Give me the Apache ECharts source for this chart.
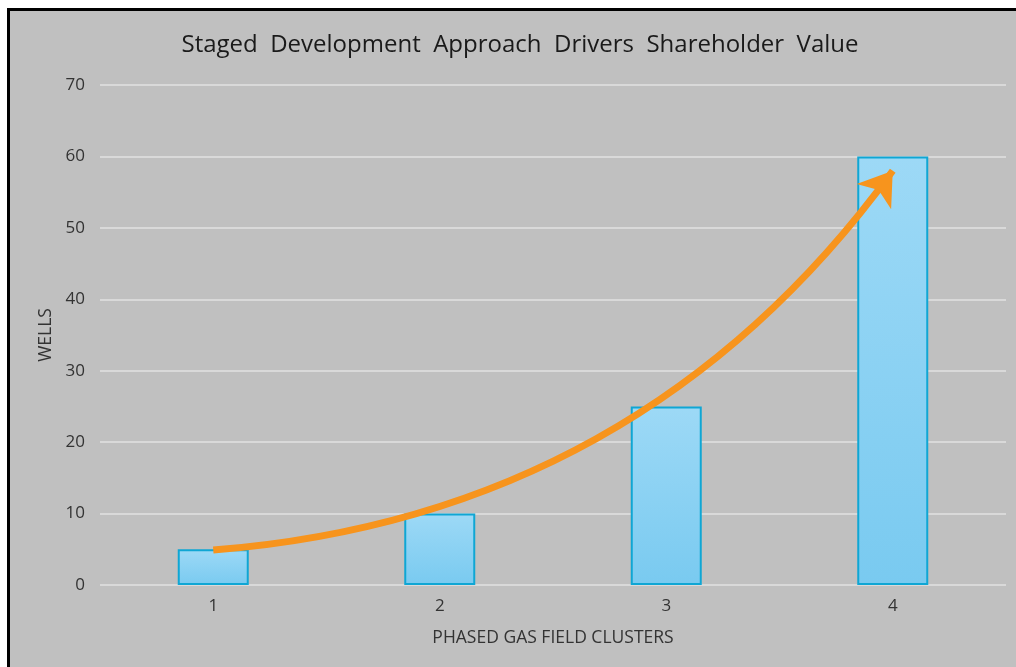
<!DOCTYPE html>
<html>
<head>
<meta charset="utf-8">
<script src="https://cdn.jsdelivr.net/npm/echarts@6/dist/echarts.min.js"></script>
<style>
html, body { margin: 0; padding: 0; background: #fff; overflow: hidden; }
#chart {
    position: absolute;
    left: 7px;
    top: 8px;
    width: 1020px;
    height: 670px;
    border: 3px solid #000;
    background: #c0c0c0;
}
</style>
</head>
<body>
<div id="chart"></div>
<script>
// data
const clusters = ['1', '2', '3', '4']
const wells = [5, 10, 25, 60]
const yTicks = { min: 0, max: 70, interval: 10 }
// trend arrow: [category index, wells]
const trendStart = [0, 4.9]
const trendEnd = [3, 58]

const chart = echarts.init(document.getElementById('chart'))

const labelStyle = {
    color: '#333333',
    fontFamily: 'Open Sans',
    fontSize: 17
}
const nameStyle = Object.assign({}, labelStyle, { fontSize: 17.5 })

const option = {
    backgroundColor: '#c0c0c0',
    title: {
        text: 'Staged  Development  Approach  Drivers  Shareholder  Value',
        left: 'center',
        top: 17,
        textStyle: {
            color: '#1a1a1a',
            fontFamily: 'Open Sans',
            fontWeight: 'normal',
            fontSize: 24
        }
    },
    grid: {
        left: 90,
        top: 74,
        width: 906,
        height: 500
    },
    xAxis: {
        type: 'category',
        data: clusters,
        name: 'PHASED GAS FIELD CLUSTERS',
        nameLocation: 'middle',
        nameGap: 44,
        nameTextStyle: nameStyle,
        axisLine: { show: false },
        axisTick: { show: false },
        axisLabel: Object.assign({ margin: 13 }, labelStyle)
    },
    yAxis: {
        type: 'value',
        min: yTicks.min,
        max: yTicks.max,
        interval: yTicks.interval,
        name: 'WELLS',
        nameLocation: 'middle',
        nameGap: 44,
        nameTextStyle: nameStyle,
        axisLine: { show: false },
        axisTick: { show: false },
        axisLabel: Object.assign({ margin: 15 }, labelStyle),
        splitLine: {
            lineStyle: { color: '#d9d9d9', width: 2 }
        }
    },
    series: [
        {
            type: 'bar',
            data: wells,
            barWidth: 71,
            itemStyle: {
                color: new echarts.graphic.LinearGradient(0, 0, 0, 1, [
                    { offset: 0, color: '#9dd9f6' },
                    { offset: 1, color: '#79caf0' }
                ]),
                borderColor: '#0fa6d4',
                borderWidth: 2
            }
        },
        {
            type: 'lines',
            coordinateSystem: 'cartesian2d',
            symbol: ['none', 'arrow'],
            symbolSize: 32,
            silent: true,
            z: 5,
            lineStyle: {
                color: '#f7941d',
                width: 7,
                opacity: 1,
                curveness: -0.23
            },
            data: [{ coords: [trendStart, trendEnd] }]
        }
    ]
}
chart.setOption(option)

window.addEventListener('resize', () => {
    chart && chart.resize()
})
</script>
</body>
</html>
